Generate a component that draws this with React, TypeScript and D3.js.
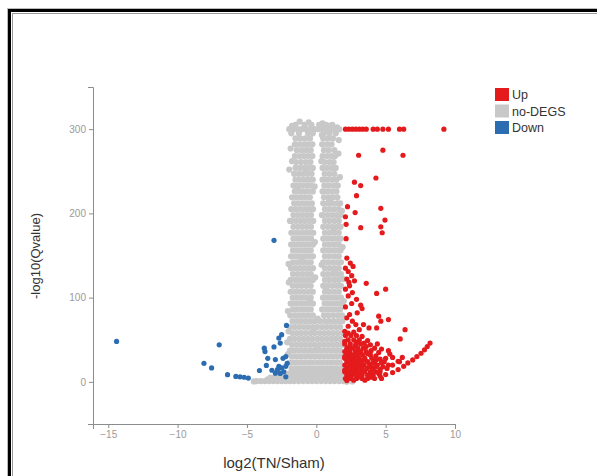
import React, { useEffect, useRef } from 'react';
import * as d3 from 'd3';

const xTicks = [-15, -10, -5, 0, 5, 10];
const yTicks = [0, 100, 200, 300];
const legendLabels = ['Up', 'no-DEGS', 'Down'];
const legendColors = ['#e41a1c', '#c8c8c8', '#2c6db2'];

// up-regulated genes [log2FC, -log10(Q)]
const upPoints: [number, number][] = [
  [2.1, 300], [2.35, 300], [2.6, 300], [2.85, 300], [3.1, 300], [3.35, 300], [3.6, 300],
  [4.1, 300], [4.4, 300], [4.8, 300], [5.2, 300], [6.0, 300], [6.3, 300], [9.2, 300],
  [3.05, 269], [4.8, 275], [6.25, 269], [4.3, 242], [2.75, 237], [3.2, 233], [2.9, 221],
  [2.25, 208], [2.8, 201], [4.65, 206], [2.1, 196], [2.15, 187], [4.95, 192], [3.2, 183],
  [4.65, 184], [4.75, 177], [2.15, 170],
  [2.2, 147], [2.45, 141], [2.65, 137], [2.3, 131], [2.55, 126], [2.2, 122], [2.75, 120],
  [2.4, 114], [2.1, 110], [2.6, 106], [2.3, 102], [2.9, 98], [3.6, 117], [5.0, 110],
  [4.35, 105], [2.55, 93], [3.2, 91], [3.3, 87], [2.1, 89], [2.1, 135], [2.35, 118],
  [2.4, 80], [2.95, 82], [2.2, 76], [2.6, 72], [2.85, 68], [3.4, 68], [3.8, 64], [4.35, 64],
  [4.5, 78], [4.65, 72], [5.2, 74], [6.4, 62], [6.05, 51], [2.3, 66], [3.1, 62], [2.05, 60],
  [2.1, 55], [2.5, 55], [2.9, 55], [3.3, 54], [2.7, 59], [2.3, 58],
  [2.3, 50], [2.7, 50], [3.1, 50], [3.7, 49], [2.05, 48], [2.9, 47], [3.45, 46],
  [2.05, 45], [2.45, 45], [2.85, 45], [3.2, 45], [3.9, 44], [4.4, 45],
  [2.2, 40], [2.6, 40], [3.0, 40], [3.4, 40], [4.2, 40], [4.7, 39], [2.4, 42], [2.8, 42.5], [3.6, 42],
  [2.05, 36], [2.4, 36], [2.8, 36], [3.2, 36], [3.6, 36], [4.5, 35], [5.2, 37], [3.0, 38], [3.95, 37],
  [2.25, 32], [2.6, 32], [2.95, 32], [3.35, 32], [3.9, 32], [4.3, 31], [2.05, 30], [3.15, 34], [3.7, 33.5],
  [2.05, 28], [2.4, 28], [2.75, 28], [3.1, 28], [3.5, 28], [4.0, 28], [4.6, 27], [5.5, 29], [2.6, 30], [4.3, 26],
  [2.2, 24], [2.55, 24], [2.9, 24], [3.25, 24], [3.7, 24], [4.2, 24], [4.9, 24], [6.0, 24], [3.45, 26], [2.35, 26],
  [2.05, 20], [2.4, 20], [2.75, 20], [3.1, 20], [3.45, 20], [3.85, 20], [4.4, 20], [5.2, 20], [2.6, 22], [3.3, 22], [4.05, 22],
  [2.2, 16], [2.55, 16], [2.9, 16], [3.3, 16], [3.65, 16], [4.05, 16], [4.6, 15], [2.05, 14], [3.1, 18], [3.85, 18], [4.8, 18],
  [2.05, 12], [2.4, 12], [2.75, 12], [3.1, 12], [3.5, 12], [3.9, 12], [4.3, 12], [2.6, 14], [3.3, 14], [4.1, 14],
  [2.2, 8], [2.55, 8], [2.9, 8], [3.3, 8], [3.7, 8], [4.1, 8], [4.6, 7], [2.4, 10], [3.1, 10], [3.9, 10], [4.5, 10],
  [2.1, 4], [2.5, 4], [2.9, 4], [3.3, 4], [3.7, 4], [4.2, 4], [4.7, 4], [2.35, 6], [3.1, 6], [3.95, 5.5], [2.2, 1.5], [2.7, 2], [3.5, 2],
  [5.0, 8.7], [5.5, 11], [5.9, 14.6], [6.3, 18.5], [6.6, 22.5], [6.95, 26], [7.25, 30],
  [7.55, 34], [7.8, 38], [8.0, 42], [8.2, 46],
  [4.6, 12], [5.1, 16], [5.5, 20], [5.9, 24.5], [6.2, 29],
  [4.3, 18], [4.7, 23], [5.0, 28], [5.3, 33],
];

// down-regulated genes
const downPoints: [number, number][] = [
  [-14.4, 48], [-7.0, 44], [-8.1, 22], [-7.55, 16.5], [-6.4, 8.5], [-5.8, 6.5], [-5.5, 6],
  [-5.2, 5.5], [-4.9, 4.5], [-4.1, 13.5], [-3.6, 19.5], [-3.5, 28], [-3.75, 40], [-3.7, 36],
  [-3.05, 41.5], [-2.7, 52], [-2.5, 56], [-2.15, 67], [-2.6, 46], [-2.2, 30], [-2.4, 28],
  [-2.95, 26.5], [-2.7, 18.5], [-2.5, 16.5], [-2.2, 18.5], [-2.95, 10.3], [-2.6, 10],
  [-2.2, 6], [-3.2, 13.8], [-2.8, 14.6], [-2.35, 12], [-2.1, 22], [-3.05, 168],
];

// not significant genes, listed per -log10(Q) row: [y, x values]
const grayRows: [number, number[]][] = [
  [305, [-1.5, -0.85, -0.35, 0.2, 0.7, 1.15]],
  [300, [-1.95, -1.65, -1.35, -1.05, -0.75, -0.45, -0.15, 0.15, 0.45, 0.75, 1.05, 1.35, 1.65]],
  [295, [-1.8, -1.25, -0.6, -0.25, 0.55, 0.95, 1.4]],
  [289, [-1.5, -1.15, -0.8, -0.45, 0.5, 0.85, 1.2]],
  [282, [-1.55, -1.22, -0.9, -0.58, -0.28, 0.42, 0.75, 1.1]],
  [275, [-1.4, -1.05, -0.72, -0.4, 0.55, 0.9, 1.3]],
  [268, [-1.55, -1.22, -0.9, -0.58, -0.28, 0.45, 0.78, 1.1, 1.35]],
  [261, [-1.45, -1.1, -0.75, -0.42, 0.6, 0.95, 1.25]],
  [254, [-1.5, -1.18, -0.86, -0.55, -0.25, 0.45, 0.78, 1.12, 1.4]],
  [247, [-1.6, -1.28, -0.96, -0.64, -0.34, 0.6, 0.95, 1.3]],
  [240, [-1.5, -1.18, -0.86, -0.55, -0.25, 0.45, 0.78, 1.12, 1.45]],
  [233, [-1.65, -1.32, -1.0, -0.68, -0.38, 0.58, 0.92, 1.28, 1.55]],
  [226, [-1.55, -1.22, -0.9, -0.58, -0.25, 0.45, 0.78, 1.12, 1.45]],
  [219, [-1.75, -1.42, -1.1, -0.78, -0.46, 0.55, 0.88, 1.2, 1.52]],
  [212, [-1.6, -1.28, -0.96, -0.64, -0.32, 0.5, 0.82, 1.15, 1.48, 1.72]],
  [205, [-1.8, -1.47, -1.15, -0.83, -0.52, -0.24, 0.62, 0.95, 1.3, 1.62]],
  [198, [-1.65, -1.32, -1.0, -0.68, -0.38, 0.5, 0.82, 1.15, 1.48, 1.75]],
  [191, [-1.8, -1.47, -1.15, -0.83, -0.52, -0.22, 0.62, 0.95, 1.3, 1.62]],
  [184, [-1.65, -1.32, -1.0, -0.68, -0.38, 0.5, 0.82, 1.15, 1.48, 1.75]],
  [177, [-1.8, -1.47, -1.15, -0.83, -0.52, -0.22, 0.62, 0.95, 1.3, 1.62]],
  [170, [-1.65, -1.32, -1.0, -0.68, -0.38, 0.5, 0.82, 1.15, 1.48, 1.75]],
  [163, [-1.82, -1.5, -1.18, -0.86, -0.55, -0.24, 0.62, 0.95, 1.3, 1.62]],
  [156, [-1.68, -1.35, -1.02, -0.7, -0.4, 0.5, 0.82, 1.15, 1.48, 1.75]],
  [149, [-1.82, -1.5, -1.18, -0.86, -0.55, -0.24, 0.62, 0.95, 1.3, 1.62]],
  [142, [-1.68, -1.35, -1.02, -0.7, -0.4, 0.5, 0.82, 1.15, 1.48, 1.78]],
  [135, [-1.82, -1.5, -1.18, -0.86, -0.55, -0.24, 0.62, 0.95, 1.3, 1.62]],
  [128, [-1.68, -1.35, -1.02, -0.7, -0.4, 0.5, 0.82, 1.15, 1.48, 1.78]],
  [121, [-1.85, -1.52, -1.2, -0.88, -0.56, -0.25, 0.62, 0.95, 1.3, 1.62]],
  [114, [-1.7, -1.38, -1.05, -0.72, -0.4, 0.5, 0.82, 1.15, 1.48, 1.78]],
  [107, [-1.85, -1.52, -1.2, -0.88, -0.56, -0.25, 0.62, 0.95, 1.3, 1.62]],
  [100, [-1.7, -1.38, -1.05, -0.72, -0.4, 0.48, 0.8, 1.12, 1.45, 1.78]],
  [93, [-1.85, -1.52, -1.2, -0.88, -0.56, -0.24, 0.6, 0.92, 1.25, 1.58, 1.85]],
  [86, [-1.7, -1.38, -1.05, -0.72, -0.4, 0.42, 0.75, 1.08, 1.4, 1.72]],
  [79, [-1.88, -1.55, -1.22, -0.9, -0.58, -0.25, 0.55, 0.88, 1.22, 1.55, 1.85]],
  [72, [-1.72, -1.4, -1.08, -0.75, -0.42, -0.1, 0.25, 0.6, 0.92, 1.25, 1.58, 1.88]],
  [65, [-1.88, -1.55, -1.22, -0.9, -0.58, -0.25, 0.08, 0.42, 0.75, 1.08, 1.4, 1.72]],
  [58, [-1.72, -1.4, -1.08, -0.75, -0.42, -0.1, 0.25, 0.58, 0.9, 1.22, 1.55, 1.88]],
  [51, [-1.9, -1.58, -1.25, -0.92, -0.6, -0.28, 0.08, 0.42, 0.75, 1.08, 1.4, 1.72]],
  [44, [-1.75, -1.42, -1.1, -0.78, -0.45, -0.12, 0.22, 0.55, 0.88, 1.2, 1.52, 1.85]],
  [37, [-1.9, -1.58, -1.25, -0.92, -0.6, -0.28, 0.05, 0.38, 0.72, 1.05, 1.38, 1.7]],
  [30, [-1.75, -1.42, -1.1, -0.78, -0.45, -0.12, 0.22, 0.55, 0.88, 1.2, 1.52, 1.85]],
  [23, [-1.92, -1.6, -1.28, -0.95, -0.62, -0.3, 0.05, 0.38, 0.72, 1.05, 1.38, 1.7]],
  [16, [-1.78, -1.45, -1.12, -0.8, -0.48, -0.15, 0.2, 0.52, 0.85, 1.18, 1.5, 1.82]],
  [10, [-2.25, -1.95, -1.62, -1.3, -0.98, -0.65, -0.32, 0.02, 0.35, 0.68, 1.0, 1.32, 1.65, 1.92]],
  [5, [-3.3, -3.0, -2.7, -2.4, -2.1, -1.8, -1.48, -1.15, -0.82, -0.5, -0.18, 0.15, 0.48, 0.8, 1.12, 1.45, 1.78]],
  [1, [-4.3, -4.0, -3.7, -3.4, -3.1, -2.8, -2.5, -2.2, -1.9, -1.6, -1.28, -0.95, -0.62, -0.3, 0.02, 0.35, 0.68, 1.0, 1.32, 1.65, 1.95]],
];

// loose grey genes off the rows, giving the ragged edges
const grayLoose: [number, number][] = [
  [-1.95, 252], [-1.9, 191], [-2.0, 140], [-1.85, 277], [-1.75, 262], [-1.98, 118], [-2.05, 84],
  [1.6, 271], [1.7, 243], [1.9, 160], [1.95, 122], [1.85, 203], [1.62, 287], [1.98, 96],
  [-0.12, 232], [-0.1, 166], [-0.08, 124], [0.4, 198], [0.38, 139], [0.36, 262], [0.4, 293],
  [-1.2, 309], [-0.55, 308], [0.45, 307], [0.95, 304], [1.5, 302], [-1.75, 304],
  [-1.35, 229], [-0.7, 251], [0.95, 215], [1.25, 181], [-1.05, 145], [0.7, 112], [1.3, 131],
  [-0.45, 96], [0.1, 75], [-0.2, 60], [0.05, 40], [-2.05, 33], [-2.1, 47], [-2.0, 60],
  [-2.6, 3], [-3.5, 3], [-4.5, 0.5], [2.2, 0.2], [2.6, 0.5],
];

const W = 597;
const H = 476;
const FONT = '"Liberation Sans", Arial, sans-serif';

const App: React.FC = () => {
  const svgRef = useRef<SVGSVGElement>(null);

  useEffect(() => {
    if (!svgRef.current) return;
    const svg = d3.select(svgRef.current);
    svg.selectAll('*').remove();

    // picture frame
    svg.append('rect').attr('x', 7.5).attr('y', 8.5).attr('width', 700).attr('height', 700)
      .attr('fill', 'none').attr('stroke', '#bbb').attr('stroke-width', 1);
    svg.append('rect').attr('x', 9.5).attr('y', 10.5).attr('width', 700).attr('height', 700)
      .attr('fill', 'none').attr('stroke', '#000').attr('stroke-width', 3);
    svg.append('rect').attr('x', 12.5).attr('y', 13.5).attr('width', 700).attr('height', 700)
      .attr('fill', 'none').attr('stroke', '#999').attr('stroke-width', 1);

    const x = d3.scaleLinear().domain([-16.1, 10]).range([93, 455]);
    const y = d3.scaleLinear().domain([-50, 350]).range([424, 87]);

    const grayPoints: [number, number][] = grayRows
      .flatMap(([yy, xs]) => xs.map(xx => [xx, yy] as [number, number]))
      .concat(grayLoose);

    const drawDots = (pts: [number, number][], color: string, r: number) => {
      svg.append('g').selectAll('circle')
        .data(pts)
        .join('circle')
        .attr('cx', d => x(d[0]))
        .attr('cy', d => y(d[1]))
        .attr('r', r)
        .attr('fill', color);
    };
    drawDots(grayPoints, legendColors[1], 3.1);
    drawDots(upPoints, legendColors[0], 2.6);
    drawDots(downPoints, legendColors[2], 2.6);

    const styleAxis = (g: d3.Selection<SVGGElement, unknown, null, undefined>) => {
      g.selectAll('path, line').attr('stroke', '#8c8c8c');
      g.selectAll('text').attr('fill', '#9a9a9a').style('font-size', '10px').style('font-family', FONT);
    };

    svg.append('g')
      .attr('transform', 'translate(0,424)')
      .call(d3.axisBottom(x).tickValues(xTicks).tickSizeInner(4).tickSizeOuter(5).tickPadding(3))
      .call(styleAxis);

    svg.append('g')
      .attr('transform', 'translate(93,0)')
      .call(d3.axisLeft(y).tickValues(yTicks).tickSizeInner(4).tickSizeOuter(5).tickPadding(3))
      .call(styleAxis);

    svg.append('text')
      .attr('x', 274).attr('y', 468)
      .attr('text-anchor', 'middle')
      .style('font-family', FONT).style('font-size', '15px').attr('fill', '#333')
      .text('log2(TN/Sham)');

    svg.append('text')
      .attr('transform', 'translate(40,256) rotate(-90)')
      .attr('text-anchor', 'middle')
      .style('font-family', FONT).style('font-size', '13px').attr('fill', '#333')
      .text('-log10(Qvalue)');

    // legend
    const lg = svg.append('g').attr('transform', 'translate(495,88)');
    legendLabels.forEach((lab, i) => {
      lg.append('rect').attr('x', 0).attr('y', i * 16.5).attr('width', 14).attr('height', 13)
        .attr('fill', legendColors[i]);
      lg.append('text').attr('x', 17).attr('y', i * 16.5 + 11)
        .style('font-family', FONT).style('font-size', '12.5px').attr('fill', '#333')
        .text(lab);
    });
  }, []);

  return (
    <svg ref={svgRef} width={W} height={H}
      style={{ position: 'absolute', left: 0, top: 0, background: '#fff' }} />
  );
};

export default App;
